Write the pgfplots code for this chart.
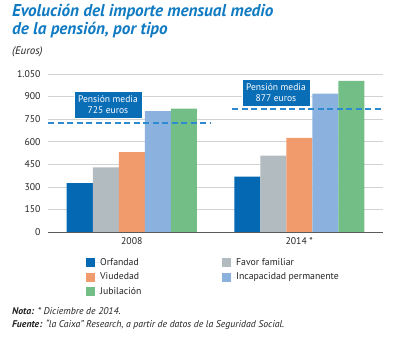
\documentclass[border=0pt]{standalone}
\usepackage{pgfplots}
\pgfplotsset{compat=1.18}
\usepackage{fontspec}
\setmainfont{PT Sans}
\definecolor{titleblue}{HTML}{107BC3}
\definecolor{boxblue}{HTML}{0A6EB6}
\definecolor{dashblue}{HTML}{2B8AD0}
\definecolor{orf}{HTML}{0568B3}
\definecolor{fav}{HTML}{B2BCC0}
\definecolor{viu}{HTML}{F19A6B}
\definecolor{inc}{HTML}{8BB2DF}
\definecolor{jub}{HTML}{73BE86}
\definecolor{gridgray}{HTML}{D2D2D2}
\definecolor{axisgray}{HTML}{5A5A5A}
\definecolor{txt}{HTML}{222222}
\pgfplotsset{
  mybar/.style={ybar, bar width=26bp, draw=none, fill=#1,
    legend image code/.code={\fill[#1] (0bp,-4.5bp) rectangle (9bp,4.5bp); \path (0bp,0bp) -- (14bp,0bp);}},
}
\begin{document}
\begin{tikzpicture}
\path[use as bounding box] (0bp,0bp) rectangle (394bp,338bp);
\node[anchor=base west, inner sep=0pt, font=\fontsize{17.2}{18}\selectfont\bfseries\itshape, text=titleblue] at (12bp,321bp) {Evolución del importe mensual medio};
\node[anchor=base west, inner sep=0pt, font=\fontsize{17.2}{18}\selectfont\bfseries\itshape, text=titleblue] at (12bp,303bp) {de la pensión, por tipo};
\node[anchor=base west, inner sep=0pt, font=\fontsize{11}{12}\selectfont\itshape, text=txt] at (12bp,283.5bp) {(Euros)};
\node[anchor=base west, inner sep=0pt, font=\fontsize{9.8}{10}\selectfont\itshape, text=txt] at (12bp,24bp) {\textbf{Nota:} * Diciembre de 2014.};
\node[anchor=base west, inner sep=0pt, font=\fontsize{9.8}{10}\selectfont\itshape, text=txt] at (12bp,11bp) {\textbf{Fuente:} “la Caixa” Research, a partir de datos de la Seguridad Social.};
\begin{axis}[
  at={(48bp,106bp)}, anchor=south west,
  scale only axis, width=335bp, height=158bp,
  xmin=-0.5, xmax=1.5, ymin=0, ymax=1050,
  axis x line*=bottom, axis y line*=left,
  y axis line style={draw=none},
  x axis line style={draw=axisgray, line width=0.9bp},
  ytick={0,150,300,450,600,750,900,1050},
  ymajorgrids, major grid style={draw=gridgray, line width=0.6bp},
  ytick style={draw=none},
  xtick={0,1}, xticklabels={2008, 2014 *}, xtick style={draw=none},
  extra x ticks={-0.5,0.5,1.5}, extra x tick labels={},
  extra x tick style={grid=none, major tick length=5bp, tick align=center, tick style={draw=axisgray, line width=0.9bp}},
  tick label style={font=\fontsize{9.8}{11}\selectfont, text=txt},
  yticklabel style={xshift=-4bp},
  xticklabel style={yshift=-2bp},
  /pgf/number format/1000 sep={.},
  /pgf/number format/assume math mode=true,
  legend columns=2,
  legend style={at={(axis description cs:0.1134,-0.165)}, anchor=north west,
    draw=none, fill=none, inner sep=0pt, row sep=5.5bp, column sep=0pt,
    font=\fontsize{9.8}{11}\selectfont, text=txt,
    cells={anchor=west},
    nodes={inner sep=0pt, text height=7bp, text depth=2bp},
    /tikz/column 2/.style={text width=122bp}},
]
\addplot[mybar=orf, bar shift=-52bp] coordinates {(0,324) (1,368)};
\addplot[mybar=fav, bar shift=-26bp] coordinates {(0,430) (1,507)};
\addplot[mybar=viu, bar shift=0bp] coordinates {(0,530) (1,625)};
\addplot[mybar=inc, bar shift=26bp] coordinates {(0,804) (1,919)};
\addplot[mybar=jub, bar shift=52bp] coordinates {(0,820) (1,1004)};
\addplot[dashblue, line width=1.5bp, dash pattern=on 6bp off 3.5bp, forget plot] coordinates {(-0.5,725) (0.47,725)};
\addplot[dashblue, line width=1.5bp, dash pattern=on 6bp off 3.5bp, forget plot] coordinates {(0.6,818) (1.5,818)};
\node[fill=boxblue, draw=white, line width=0.8bp, text=white, align=center, minimum width=68bp, minimum height=27bp, inner sep=1bp, font=\fontsize{9.6}{11}\selectfont] at (axis cs:-0.142,847) {Pensión media\\725 euros};
\node[fill=boxblue, draw=white, line width=0.8bp, text=white, align=center, minimum width=68bp, minimum height=27bp, inner sep=1bp, font=\fontsize{9.6}{11}\selectfont] at (axis cs:0.861,927) {Pensión media\\877 euros};
\legend{Orfandad, Favor familiar, Viudedad, Incapacidad permanente, Jubilación}
\end{axis}
\end{tikzpicture}
\end{document}
